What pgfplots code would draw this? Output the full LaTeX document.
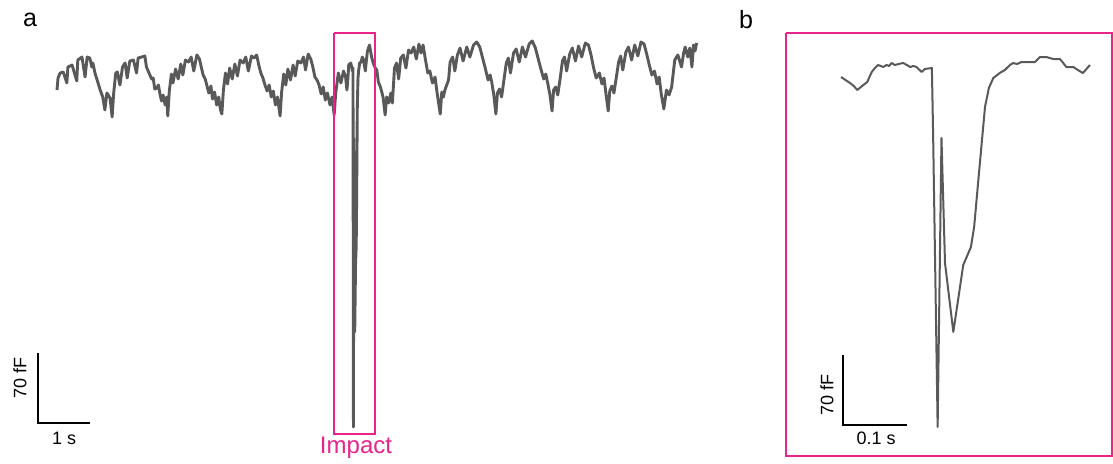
\documentclass[border=0pt]{standalone}
\usepackage{pgfplots}
\pgfplotsset{compat=1.18}
\usepackage{fontspec}
\setmainfont{Liberation Sans}
\definecolor{trace}{HTML}{595959}
\definecolor{mag}{HTML}{E8238C}
\begin{document}
\begin{tikzpicture}
\pgfplotsset{panel/.style={scale only axis, hide axis, clip=false, height=231.5pt, ymin=-40, ymax=423, anchor=south west}}
% ---------------- panel a ----------------
\begin{axis}[panel, at={(0pt,0pt)}, width=390pt, xmin=-1.0962, xmax=13.9038]
\addplot[trace, line width=1.45pt, line join=round] coordinates {
(0.00,333)(0.02,345)(0.06,350)(0.12,351)(0.19,340)(0.21,356)(0.29,358)(0.38,342)(0.40,363)(0.48,366)(0.54,346)(0.58,366)(0.63,365)(0.67,356)(0.69,360)(0.73,350)(0.79,340)(0.83,333)(0.88,326)(0.92,313)(0.96,330)(1.02,325)
(1.06,306)(1.09,330)(1.13,350)(1.16,351)(1.21,338)(1.26,356)(1.31,360)(1.35,345)(1.40,362)(1.47,363)(1.53,350)(1.56,365)(1.63,366)(1.69,367)(1.72,356)(1.77,350)(1.82,344)(1.85,345)(1.88,334)(1.92,335)(1.95,338)(1.98,329)(2.01,322)(2.04,328)(2.08,318)(2.11,326)
(2.13,307)(2.16,332)(2.20,349)(2.23,340)(2.28,354)(2.33,344)(2.38,359)(2.42,348)(2.47,363)(2.53,361)(2.58,366)(2.63,352)(2.69,368)(2.74,364)(2.77,357)(2.81,348)(2.85,344)(2.88,338)(2.92,330)(2.96,337)(2.99,324)(3.03,331)(3.07,318)(3.11,326)(3.14,314)
(3.17,309)(3.20,333)(3.24,350)(3.28,339)(3.32,355)(3.37,344)(3.42,359)(3.47,347)(3.52,363)(3.58,360)(3.63,366)(3.68,352)(3.74,367)(3.79,365)(3.84,368)(3.88,358)(3.92,350)(3.96,345)(4.00,338)(4.04,332)(4.08,338)(4.12,326)(4.16,332)(4.20,318)(4.24,326)
(4.29,307)(4.32,331)(4.36,349)(4.40,338)(4.44,354)(4.49,343)(4.54,358)(4.58,347)(4.63,362)(4.69,360)(4.74,366)(4.78,353)(4.83,369)(4.88,364)(4.92,356)(4.96,346)(5.00,343)(5.04,338)(5.08,329)(5.12,336)(5.16,323)(5.20,330)(5.25,318)(5.29,326)
(5.33,308)(5.36,330)(5.41,350)(5.46,340)(5.51,352)(5.55,346)(5.575,333)(5.59,341)(5.61,358)(5.63,359)(5.65,360)(5.67,355)(5.68,352)(5.692,355)(5.694,286)(5.701,-4)(5.707,285)(5.7125,160)(5.7255,91)(5.741,158)(5.753,176)(5.758,196)(5.767,260)(5.775,316)(5.788,345)(5.80,352)(5.82,360)(5.85,361)(5.87,366)(5.89,364)(5.91,358)(5.93,352)(5.94,358)(5.97,372)(6.01,378)(6.05,366)(6.08,360)(6.12,355)(6.15,353)(6.18,341)(6.22,336)(6.27,326)
(6.31,308)(6.34,326)(6.38,320)(6.42,330)(6.45,320)(6.49,355)(6.53,360)(6.57,344)(6.61,365)(6.66,368)(6.71,355)(6.76,373)(6.81,370)(6.86,376)(6.91,364)(6.96,379)(7.00,370)(7.04,378)(7.08,365)(7.13,350)(7.17,352)(7.22,340)(7.27,346)(7.31,330)
(7.37,309)(7.40,331)(7.43,326)(7.46,333)(7.53,343)(7.56,361)(7.61,366)(7.65,352)(7.70,368)(7.75,375)(7.81,362)(7.88,376)(7.94,366)(8.01,378)(8.07,381)(8.13,376)(8.18,366)(8.23,356)(8.29,343)(8.33,348)(8.36,341)(8.40,328)
(8.44,309)(8.47,330)(8.51,334)(8.55,326)(8.60,345)(8.64,360)(8.68,365)(8.72,350)(8.78,370)(8.83,374)(8.89,361)(8.95,376)(9.01,366)(9.08,379)(9.14,382)(9.20,375)(9.25,365)(9.30,355)(9.36,344)(9.40,349)(9.44,339)(9.48,328)
(9.52,312)(9.55,333)(9.59,336)(9.63,328)(9.68,346)(9.72,362)(9.76,366)(9.80,352)(9.86,369)(9.91,375)(9.97,362)(10.03,377)(10.09,366)(10.16,380)(10.22,378)(10.27,368)(10.32,355)(10.37,345)(10.43,350)(10.48,339)(10.52,345)(10.56,328)
(10.60,312)(10.63,332)(10.67,337)(10.71,330)(10.76,347)(10.80,361)(10.84,367)(10.88,353)(10.94,371)(10.99,376)(11.05,363)(11.11,378)(11.17,367)(11.23,381)(11.29,379)(11.34,369)(11.39,358)(11.44,348)(11.49,352)(11.54,339)(11.58,346)(11.62,329)
(11.67,314)(11.72,333)(11.77,328)(11.82,336)(11.88,363)(11.94,368)(12.01,356)(12.05,370)(12.08,376)(12.13,366)(12.17,375)(12.21,356)(12.24,378)(12.27,372)(12.30,380)
};
% impact box
\addplot[mag, line width=1.2pt] coordinates {(5.327,390)(6.115,390)(6.115,-11)(5.327,-11)(5.327,390)};
% scale bar (70 fF, 1 s)
\addplot[black, line width=1pt] coordinates {(-0.365,70)(-0.365,0)(0.635,0)};
\node[mag, font=\fontsize{12}{14}\selectfont] at (axis cs:5.75,-25) {Impact};
\node[rotate=90, font=\fontsize{9}{11}\selectfont] at (axis cs:-0.712,45) {70 fF};
\node[font=\fontsize{9}{11}\selectfont] at (axis cs:0.135,-15) {1 s};
\node[font=\fontsize{12.5}{15}\selectfont] at (axis cs:-0.519,403) {a};
\node[font=\fontsize{12.5}{15}\selectfont] at (axis cs:13.25,403) {b};
\end{axis}
% ---------------- panel b ----------------
\begin{axis}[panel, at={(390pt,0pt)}, width=166.5pt, xmin=-0.0953, xmax=0.425]
\addplot[trace, line width=1pt, line join=round] coordinates {
(0.000,346)(0.007,343)(0.014,340)(0.020,337)(0.0255,333)(0.033,337)(0.041,341)(0.048,351)(0.053,355)(0.058,358)(0.062,357)(0.066,356)(0.071,358)(0.075,357)(0.079,360)(0.084,358)(0.090,359)(0.097,360)(0.103,358)(0.108,356)(0.113,357)(0.118,356)(0.126,351)(0.131,354)(0.142,355)
(0.144,286)(0.151,-4)(0.157,285)(0.1625,160)(0.1755,91)(0.191,158)(0.203,176)(0.208,196)(0.217,260)(0.225,316)(0.231,335)(0.238,345)(0.248,350)(0.256,353)(0.264,358)(0.269,360)(0.275,359)(0.282,361)(0.290,361)(0.297,361)(0.303,361)(0.311,366)(0.321,366)(0.326,365)(0.332,364)(0.342,364)(0.346,361)(0.352,356)(0.363,356)(0.370,353)(0.378,350)(0.389,358)
};
\addplot[mag, line width=1.2pt] coordinates {(-0.0859,390)(0.4234,390)(0.4234,-33)(-0.0859,-33)(-0.0859,390)};
\addplot[black, line width=1pt] coordinates {(0.0036,68)(0.0036,-2)(0.1036,-2)};
\node[rotate=90, font=\fontsize{9}{11}\selectfont] at (axis cs:-0.0219,28) {70 fF};
\node[font=\fontsize{9}{11}\selectfont] at (axis cs:0.0547,-15) {0.1 s};
\end{axis}
\pgfresetboundingbox
\useasboundingbox (0pt,0pt) rectangle (556.5pt,231.5pt);
\end{tikzpicture}
\end{document}
